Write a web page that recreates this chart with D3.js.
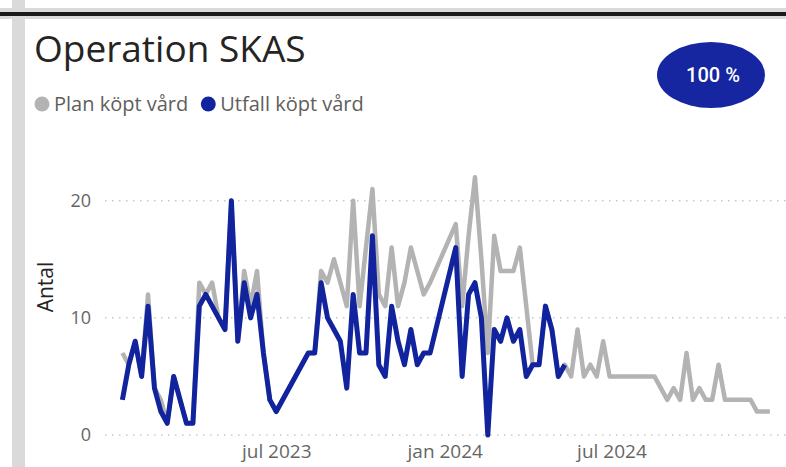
<!DOCTYPE html>
<html>
<head>
<meta charset="utf-8">
<script src="https://cdn.jsdelivr.net/npm/d3@7"></script>
<style>
html, body { margin: 0; padding: 0; background: #fff; overflow: hidden; }
svg { display: block; font-family: "Segoe UI", "Open Sans", sans-serif; }
</style>
</head>
<body>
<svg id="chart"></svg>
<script>
const width = 786;
const height = 467;

// weekly data, first week and one value per week (null = no value that week)
const firstWeek = '2023-01-14';
const plan = [7, 6, 8, 5, 12, 4, 3, 1, 5, 3, 1, 1, 13, 12, 13, 10, 9, 20, 8, 14,
    11, 14, 7, 3, 2, null, null, null, null, 7, 7, 14, 13, 15, 13, 11, 20, 11, 16, 21,
    12, 11, 16, 11, 13, 16, 14, 12, 13, null, null, null, 18, 11, 17, 22, 15, 7, 17, 14,
    14, 14, 16, 11, 6, 6, 11, 9, 5, 6, 5, 9, 5, 6, 5, 8, 5, 5, 5, 5,
    5, 5, 5, 5, 4, 3, 4, 3, 7, 3, 4, 3, 3, 6, 3, 3, 3, 3, 3, 2,
    2, 2];
const utfall = [3, 6, 8, 5, 11, 4, 2, 1, 5, 3, 1, 1, 11, 12, 11, 10, 9, 20, 8, 13,
    10, 12, 7, 3, 2, null, null, null, null, 7, 7, 13, 10, 9, 8, 4, 12, 7, 7, 17,
    6, 5, 11, 8, 6, 9, 6, 7, 7, null, null, null, 16, 5, 12, 13, 10, 0, 9, 8,
    10, 8, 9, 5, 6, 6, 11, 9, 5, 6];

const seriesNames = ['Plan köpt vård', 'Utfall köpt vård'];
const seriesColors = ['#b3b3b3', '#12239e'];
const yTicks = [0, 10, 20];
const xTicks = ['2023-07-01', '2024-01-01', '2024-07-01'];
const monthsSv = ['jan', 'feb', 'mar', 'apr', 'maj', 'jun', 'jul', 'aug', 'sep', 'okt', 'nov', 'dec'];
const badgeText = '100 %';

const svg = d3.select('#chart')
    .attr('width', width)
    .attr('height', height);

// page frame around the card
svg.append('rect').attr('x', 0).attr('y', 0).attr('width', width).attr('height', height).attr('fill', '#fff');
svg.append('rect').attr('x', 12).attr('y', 0).attr('width', 13).attr('height', height).attr('fill', '#dadada');
svg.append('rect').attr('x', 0).attr('y', 8).attr('width', width).attr('height', 11).attr('fill', '#dadada');
svg.append('rect').attr('x', 0).attr('y', 12).attr('width', width).attr('height', 4).attr('fill', '#1a1a1a');

svg.append('text')
    .attr('x', 34).attr('y', 62)
    .attr('font-size', 37)
    .attr('fill', '#252423')
    .text('Operation SKAS');

// legend
const legend = svg.append('g');
let lx = 42;
seriesNames.forEach((name, i) => {
    legend.append('circle').attr('cx', lx).attr('cy', 104).attr('r', 7.5).attr('fill', seriesColors[i]);
    const t = legend.append('text')
        .attr('x', lx + 12).attr('y', 111)
        .attr('font-size', 20)
        .attr('fill', '#605e5c')
        .text(name);
    lx += 12 + t.node().getComputedTextLength() + 20;
});

// badge
svg.append('ellipse')
    .attr('cx', 711).attr('cy', 75).attr('rx', 54).attr('ry', 33)
    .attr('fill', '#1526a0');
svg.append('text')
    .attr('x', 713).attr('y', 82)
    .attr('text-anchor', 'middle')
    .attr('font-family', 'Roboto, sans-serif')
    .attr('font-weight', 500)
    .attr('font-size', 20)
    .attr('fill', '#fff')
    .text(badgeText);

const start = new Date(firstWeek + 'T00:00:00Z');
const x = d3.scaleUtc()
    .domain([new Date('2022-12-26T00:00:00Z'), new Date('2025-01-12T00:00:00Z')])
    .range([105, 790]);
const y = d3.scaleLinear()
    .domain([0, 20])
    .range([435, 200.7]);

// dotted gridlines
svg.append('g')
    .selectAll('line')
    .data(yTicks)
    .enter()
    .append('line')
    .attr('x1', 105).attr('x2', width)
    .attr('y1', d => y(d)).attr('y2', d => y(d))
    .attr('stroke', '#c8c8c8')
    .attr('stroke-width', 1.5)
    .attr('stroke-dasharray', '1.5 5.5');

const yAxis = svg.append('g')
    .attr('transform', 'translate(91, 0)')
    .call(d3.axisLeft(y).tickValues(yTicks).tickSize(0).tickPadding(0));
yAxis.select('.domain').remove();
yAxis.selectAll('text')
    .attr('font-family', '"Segoe UI", "Open Sans", sans-serif')
    .attr('font-size', 18)
    .attr('fill', '#666');

const xAxis = svg.append('g')
    .attr('transform', 'translate(0, 435)')
    .call(d3.axisBottom(x)
        .tickValues(xTicks.map(d => new Date(d + 'T00:00:00Z')))
        .tickFormat(d => monthsSv[d.getUTCMonth()] + ' ' + d.getUTCFullYear())
        .tickSize(0).tickPadding(10));
xAxis.select('.domain').remove();
xAxis.selectAll('text')
    .attr('font-family', '"Segoe UI", "Open Sans", sans-serif')
    .attr('font-size', 19)
    .attr('fill', '#666');

svg.append('text')
    .attr('transform', 'translate(53, 287) rotate(-90)')
    .attr('text-anchor', 'middle')
    .attr('font-size', 21)
    .attr('fill', '#252423')
    .text('Antal');

const line = d3.line()
    .x(d => x(d.date))
    .y(d => y(d.value));

[plan, utfall].forEach((values, s) => {
    const pts = values
        .map((v, i) => ({date: d3.utcDay.offset(start, 7 * i), value: v}))
        .filter(d => d.value !== null);
    svg.append('path')
        .datum(pts)
        .attr('fill', 'none')
        .attr('stroke', seriesColors[s])
        .attr('stroke-width', s === 0 ? 4.5 : 5)
        .attr('stroke-linejoin', 'round')
        .attr('d', line);
});
</script>
</body>
</html>
